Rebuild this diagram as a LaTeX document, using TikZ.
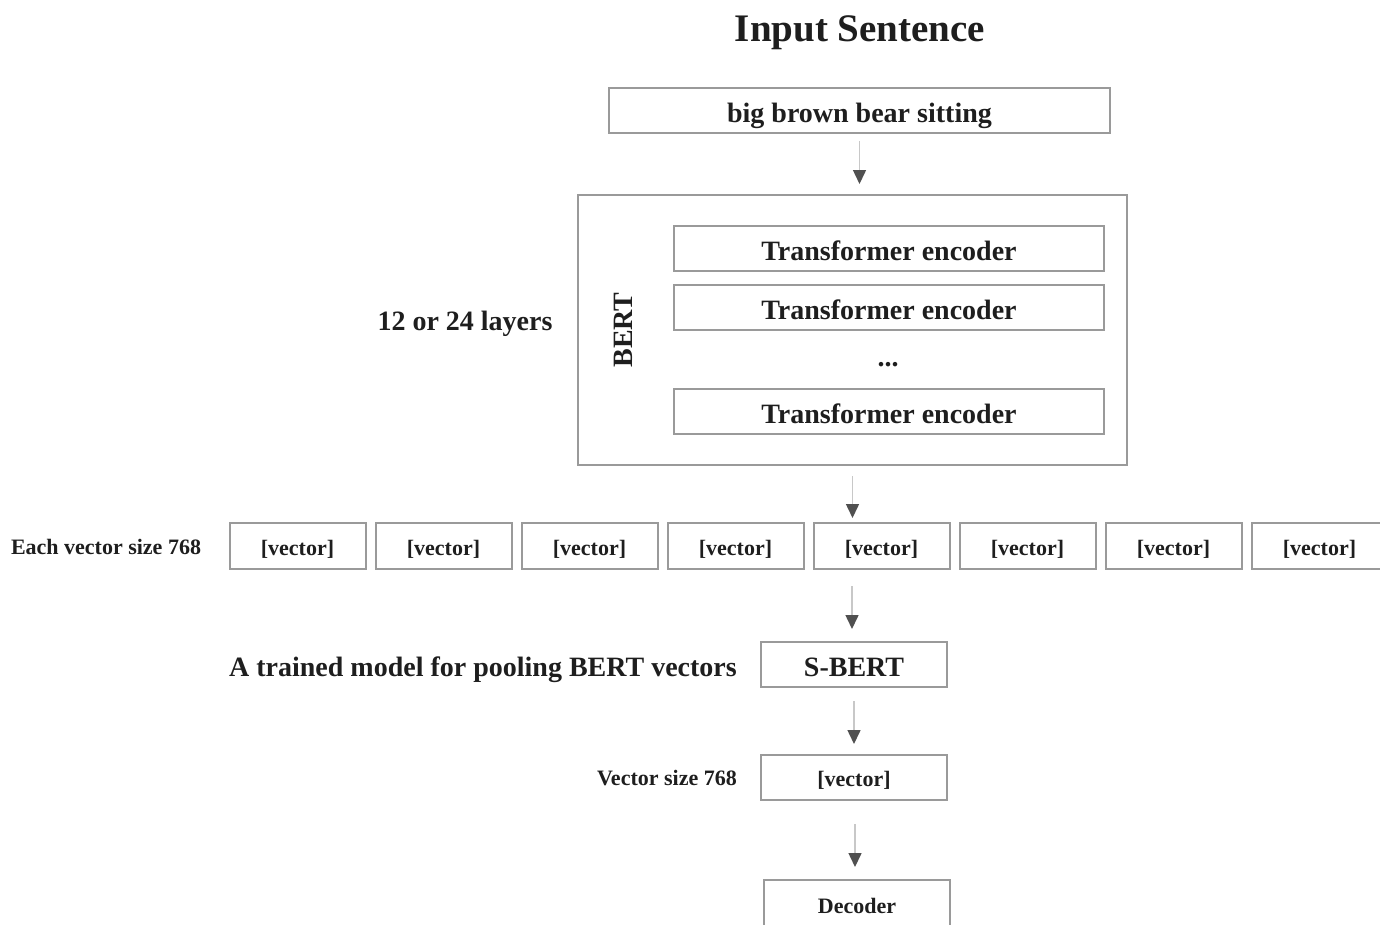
\documentclass[tikz,border=0pt]{standalone}
\usepackage{fontspec}
\setmainfont{Liberation Serif}
\usetikzlibrary{arrows.meta}
\definecolor{boxline}{HTML}{9A9A9A}
\definecolor{inkdark}{HTML}{1E1E1E}
\definecolor{shaftgray}{HTML}{C8C8C8}
\definecolor{headgray}{HTML}{505050}
\tikzset{
  lbl/.style={font=\bfseries\fontsize{28}{30}\selectfont, text=inkdark, inner sep=0pt,
              text height=28pt, text depth=4.5pt},
  lblsmall/.style={lbl, font=\bfseries\fontsize{22}{24}\selectfont,
              text height=22pt, text depth=3.5pt},
  boxbase/.style={draw=boxline, line width=2pt, rectangle, inner sep=0pt},
  bigbox/.style={boxbase, lbl, minimum height=45pt},
  smallbox/.style={boxbase, lblsmall, minimum height=45pt},
  vecbox/.style={smallbox, minimum width=136pt, minimum height=46pt},
  flow/.style={draw=shaftgray, line width=1.5pt,
               -{Triangle[width=13pt, length=14pt, color=headgray, fill=headgray]}}
}
\begin{document}
\begin{tikzpicture}[x=1pt, y=-1pt]
  \path[use as bounding box, clip] (0,0) rectangle (1380,924);

  % heading
  \node[lbl, font=\bfseries\fontsize{39}{42}\selectfont, text height=39pt, text depth=6.3pt]
    (title) at (860,25) {Input Sentence};

  % input sentence
  \node[bigbox, minimum width=501pt] (inp) at (859.5,110.5) {big brown bear sitting};

  % BERT stack
  \node[boxbase, minimum width=549pt, minimum height=270pt] (bert) at (852.5,330) {};
  \node[lbl, rotate=90] (bertlbl) at (621,330) {BERT};
  \node[bigbox, minimum width=430pt] (te1) at (889,248.5) {Transformer encoder};
  \node[bigbox, minimum width=430pt] (te2) at (889,307.5) {Transformer encoder};
  \node[lbl] (dots) at (888,355) {...};
  \node[bigbox, minimum width=430pt] (te3) at (889,411.5) {Transformer encoder};
  \node[lbl] (layers) at (465,319) {12 or 24 layers};

  % token vectors
  \node[lblsmall] (eachlbl) at (106,545) {Each vector size 768};
  \foreach \i in {1,...,8} {
    \node[vecbox] (v\i) at ({297.5+146*(\i-1)},546) {[vector]};
  }

  % pooling
  \node[bigbox, minimum width=186pt] (sbert) at (854,664.5) {S-BERT};
  \node[lbl, anchor=east] (poollbl) at (737,665) {A trained model for pooling BERT vectors};

  % sentence vector
  \node[smallbox, minimum width=186pt] (outv) at (854,777.5) {[vector]};
  \node[lblsmall, anchor=east] (outlbl) at (737,776) {Vector size 768};

  % decoder
  \node[smallbox, minimum width=186pt, minimum height=48pt] (dec) at (857,904) {Decoder};

  % connectors
  \draw[flow, shorten <=7pt, shorten >=10pt] (inp.south) -- (inp.south |- bert.north);
  \draw[flow, shorten <=10pt, shorten >=4pt] (bert.south) -- (bert.south |- v5.north);
  \draw[flow, shorten <=16pt, shorten >=12pt] ([xshift=-2pt]sbert.north |- v5.south) -- ([xshift=-2pt]sbert.north);
  \draw[flow, shorten <=13pt, shorten >=10pt] (sbert.south) -- (outv.north);
  \draw[flow, shorten <=23pt, shorten >=12pt] ([xshift=1pt]outv.south) -- ([xshift=1pt]outv.south |- dec.north);
\end{tikzpicture}
\end{document}
